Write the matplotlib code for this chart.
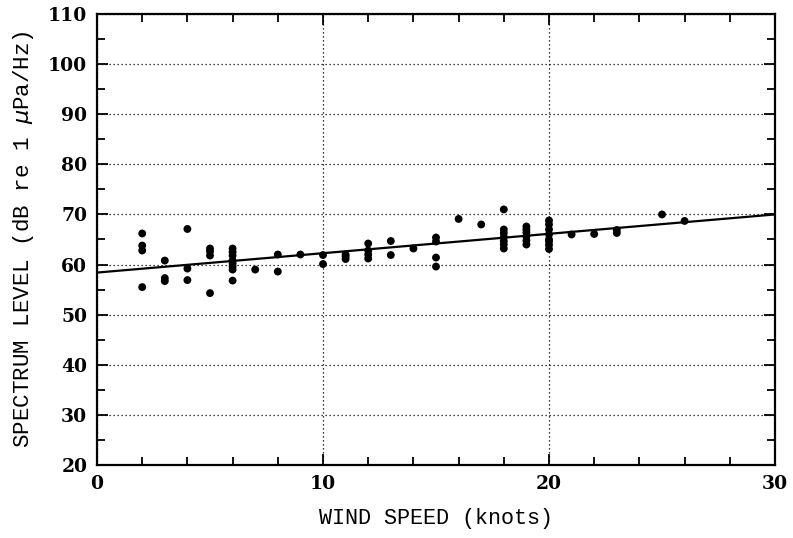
import matplotlib
matplotlib.use("Agg")
import matplotlib.pyplot as plt
from matplotlib.ticker import MultipleLocator

# Data (wind speed in knots, spectrum level in dB)
wind_x = [2, 2, 2, 2,
          3, 3, 3,
          4, 4, 4,
          5, 5, 5, 5,
          6, 6, 6, 6, 6, 6, 6, 6,
          7,
          8, 8,
          9,
          10, 10,
          11, 11, 11,
          12, 12, 12, 12,
          13, 13,
          14,
          15, 15, 15, 15,
          16,
          17,
          18, 18, 18, 18, 18, 18, 18,
          19, 19, 19, 19, 19, 19,
          20, 20, 20, 20, 20, 20, 20, 20,
          21,
          22,
          23, 23,
          25,
          26]
level_y = [66.2, 63.8, 62.8, 55.5,
           60.8, 57.3, 56.7,
           67.1, 59.2, 56.9,
           63.2, 62.6, 61.8, 54.3,
           63.2, 62.5, 61.8, 60.8, 60.2, 59.6, 59.0, 56.8,
           59.0,
           62.0, 58.6,
           62.0,
           61.9, 60.1,
           62.0, 61.6, 61.1,
           64.2, 62.8, 62.0, 61.2,
           64.7, 61.9,
           63.2,
           65.4, 64.6, 61.4, 59.6,
           69.1,
           68.0,
           71.0, 67.0, 66.3, 65.5, 64.7, 64.0, 63.2,
           67.6, 67.0, 66.4, 65.6, 64.8, 64.0,
           68.8, 68.0, 67.0, 66.0, 65.0, 64.6, 63.9, 63.1,
           66.0,
           66.1,
           66.9, 66.3,
           70.0,
           68.7]

# Regression line endpoints
fit_x = [0, 30]
fit_y = [58.4, 70.0]

x_ticks = [0, 10, 20, 30]
y_ticks = [20, 30, 40, 50, 60, 70, 80, 90, 100, 110]

fig = plt.figure(figsize=(7.93, 5.38), dpi=100)
ax = fig.add_axes([97/793, 1 - 465/538, (775 - 97)/793, (465 - 14)/538])

ax.plot(fit_x, fit_y, color="black", linewidth=1.6, zorder=3)
ax.scatter(wind_x, level_y, s=32, color="black", edgecolors="none", zorder=4)

ax.set_xlim(0, 30)
ax.set_ylim(20, 110)
ax.set_xticks(x_ticks)
ax.set_yticks(y_ticks)
ax.xaxis.set_minor_locator(MultipleLocator(2))
ax.yaxis.set_minor_locator(MultipleLocator(5))

ax.grid(True, which="major", color="black", linestyle=(0, (1, 2.2)), linewidth=0.9)
ax.set_axisbelow(True)

ax.tick_params(which="both", direction="in", top=True, right=True, width=1.3, color="black")
ax.tick_params(which="major", length=8, pad=7)
ax.tick_params(which="minor", length=5.5)

for sp in ax.spines.values():
    sp.set_linewidth(1.6)
    sp.set_color("black")

for lab in ax.get_xticklabels() + ax.get_yticklabels():
    lab.set_fontfamily("DejaVu Serif")
    lab.set_fontweight("bold")
    lab.set_fontsize(13.5)

ax.set_xlabel("WIND SPEED (knots)", family="Liberation Mono", fontsize=15.7, labelpad=11)
ax.set_ylabel(r"SPECTRUM LEVEL (dB re 1 $\mu$Pa/Hz)", family="Liberation Mono", fontsize=16.2, labelpad=9)

fig.savefig("out.png", dpi=100)
